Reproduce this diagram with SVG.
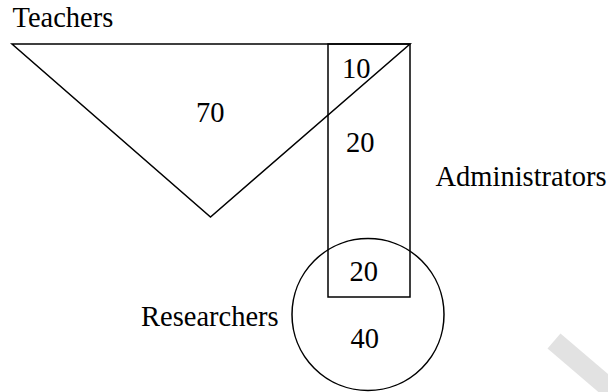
<svg xmlns="http://www.w3.org/2000/svg" width="608" height="392" viewBox="0 0 608 392">
  <style>
    .shape { fill: none; stroke: #000; stroke-width: 1.5; }
    .lbl { font-family: "Liberation Serif", "Times New Roman", serif; font-size: 28.5px; fill: #000; }
  </style>
  <rect width="608" height="392" fill="#fff"/>
  <line x1="554" y1="341" x2="622" y2="399" stroke="#e2e2e2" stroke-width="20"/>
  <g id="teachers">
    <polygon class="shape" points="12,44 410,44 210.5,217"/>
    <text class="lbl" x="12.5" y="27">Teachers</text>
  </g>
  <g id="administrators">
    <rect class="shape" x="328" y="44" width="82" height="253"/>
    <text class="lbl" x="435.5" y="186">Administrators</text>
  </g>
  <g id="researchers">
    <circle class="shape" cx="368" cy="314.5" r="76"/>
    <text class="lbl" x="141" y="326">Researchers</text>
  </g>
  <g id="regions">
    <text class="lbl" x="342" y="78">10</text>
    <text class="lbl" x="196" y="121.5">70</text>
    <text class="lbl" x="346" y="152">20</text>
    <text class="lbl" x="349.5" y="281">20</text>
    <text class="lbl" x="350.5" y="348">40</text>
  </g>
</svg>
